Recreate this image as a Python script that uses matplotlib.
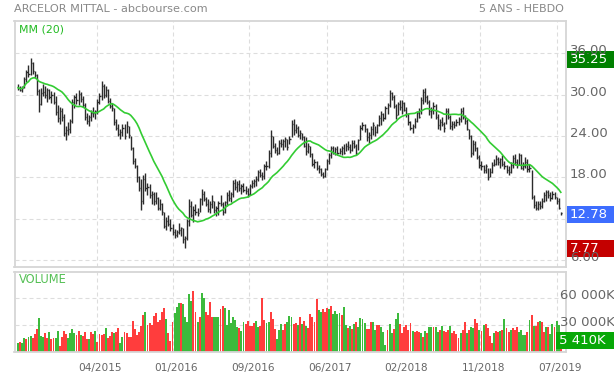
import numpy as np
import pandas as pd
import matplotlib
matplotlib.use("Agg")
import matplotlib.pyplot as plt
from matplotlib import transforms
from matplotlib.patches import Rectangle

title = "ARCELOR MITTAL - abcbourse.com"
period = "5 ANS - HEBDO"
x_labels = ["04/2015", "01/2016", "09/2016", "06/2017", "02/2018", "11/2018", "07/2019"]
x_label_weeks = [37.7, 74.0, 110.8, 147.8, 184.3, 221.3, 258.0]
price_ticks = [6, 12, 18, 24, 30, 36]
hidden_ticks = [12]  # label sits under the last-price tag
vol_ticks = [30000, 60000]

# weekly bars
high = [31.6, 31.3, 31.2, 32.5, 33.6, 34.3, 35.25, 34.8, 33.5, 33.0,
        30.8, 30.9, 31.6, 31.2, 31.0, 30.8, 30.5, 30.4, 29.8, 28.5,
        28.2, 28.0, 27.2, 25.5, 26.0, 26.4, 29.3, 30.0, 30.2, 30.6,
        30.4, 29.8, 28.8, 27.4, 27.1, 27.8, 28.2, 27.8, 29.4, 30.2,
        32.0, 31.5, 31.3, 30.8, 29.5, 28.8, 28.0, 26.4, 25.8, 25.0,
        25.8, 25.7, 26.2, 25.4, 24.0, 22.4, 20.8, 19.8, 18.2, 17.8,
        18.4, 18.6, 17.2, 17.0, 16.0, 15.8, 15.8, 15.2, 14.9, 14.3,
        12.9, 12.2, 12.6, 11.9, 11.2, 10.5, 10.4, 11.4, 10.8, 10.6,
        9.5, 12.0, 14.8, 14.5, 13.8, 14.2, 13.6, 15.0, 16.3, 16.0,
        15.2, 14.8, 14.6, 15.4, 14.6, 13.8, 14.6, 15.4, 14.4, 14.6,
        15.8, 16.2, 15.8, 17.6, 17.8, 17.4, 17.6, 17.0, 17.2, 16.8,
        16.4, 17.0, 17.6, 17.8, 18.2, 19.0, 19.2, 18.8, 20.0, 20.4,
        22.0, 24.9, 24.0, 23.0, 22.4, 23.4, 23.6, 23.5, 23.8, 23.5,
        24.0, 26.3, 26.4, 25.8, 25.4, 24.8, 24.4, 24.0, 23.9, 23.0,
        22.6, 21.5, 20.6, 20.4, 19.8, 19.4, 18.8, 19.4, 20.6, 21.6,
        22.6, 22.5, 22.4, 22.6, 22.3, 22.6, 22.8, 23.0, 23.2, 22.8,
        23.4, 23.4, 22.8, 23.6, 25.6, 26.0, 25.8, 25.2, 24.6, 25.4,
        26.0, 25.4, 25.8, 27.0, 27.6, 27.4, 28.4, 28.8, 30.6, 30.4,
        30.0, 28.6, 29.0, 29.2, 29.2, 29.0, 28.2, 27.4, 26.2, 25.8,
        26.6, 27.6, 28.0, 29.6, 30.8, 30.9, 30.0, 29.2, 28.2, 29.0,
        28.6, 27.2, 26.4, 26.8, 26.0, 28.0, 28.0, 27.0, 26.2, 26.2,
        26.4, 26.8, 28.0, 28.2, 27.0, 26.4, 25.0, 24.2, 23.4, 23.2,
        22.4, 21.2, 20.4, 19.8, 20.0, 19.4, 19.4, 20.2, 20.6, 21.2,
        21.0, 20.8, 21.2, 20.4, 19.8, 19.6, 20.2, 21.2, 21.4, 20.6,
        21.6, 21.4, 20.2, 21.0, 20.6, 20.0, 19.0, 15.4, 14.6, 14.6,
        14.6, 15.0, 15.8, 16.2, 16.2, 15.8, 16.0, 15.8, 15.2, 15.0,
        13.0]
low = [30.7, 30.5, 30.4, 30.9, 31.8, 32.5, 32.8, 33.0, 32.4, 30.0,
       27.5, 28.5, 29.8, 29.5, 29.0, 29.3, 28.8, 28.6, 27.0, 26.0,
       25.8, 26.2, 24.0, 23.4, 24.2, 24.5, 25.9, 28.0, 28.6, 28.5,
       29.0, 28.2, 26.3, 25.8, 25.5, 26.2, 26.8, 26.4, 27.2, 28.6,
       29.2, 29.5, 29.6, 28.8, 28.0, 27.6, 25.6, 24.8, 24.0, 23.5,
       24.0, 23.5, 24.4, 23.7, 21.9, 20.0, 19.4, 17.3, 16.0, 13.3,
       14.2, 16.0, 15.4, 15.0, 14.2, 14.0, 14.2, 13.2, 13.3, 12.6,
       10.6, 10.4, 11.0, 10.2, 9.6, 9.2, 9.3, 9.8, 9.5, 8.4,
       7.77, 8.9, 11.0, 12.2, 11.5, 12.5, 12.4, 12.9, 14.0, 14.5,
       13.8, 13.0, 12.8, 13.6, 12.8, 12.4, 12.6, 13.8, 12.6, 12.8,
       13.8, 14.6, 14.4, 15.2, 16.2, 15.8, 16.0, 15.6, 15.8, 15.6,
       15.2, 15.4, 16.4, 16.6, 16.8, 17.4, 18.0, 17.6, 17.8, 19.0,
       19.4, 21.0, 22.2, 21.6, 21.2, 21.4, 22.4, 21.9, 22.4, 22.0,
       22.8, 23.8, 24.2, 24.4, 23.8, 23.6, 23.4, 22.4, 21.2, 21.6,
       21.0, 19.6, 19.4, 19.0, 18.6, 18.2, 17.9, 18.0, 19.0, 20.0,
       20.8, 21.4, 21.2, 21.3, 21.4, 21.2, 21.4, 21.8, 22.0, 21.6,
       21.8, 22.2, 21.2, 22.0, 23.4, 24.8, 24.6, 23.2, 23.0, 23.6,
       24.2, 24.0, 24.4, 25.4, 25.6, 26.2, 26.4, 27.2, 28.2, 29.2,
       28.0, 26.4, 27.0, 27.8, 27.2, 27.6, 26.8, 25.6, 24.8, 24.4,
       25.2, 26.0, 26.6, 27.2, 28.6, 29.0, 28.6, 27.0, 26.6, 27.2,
       26.4, 25.0, 24.8, 25.4, 24.6, 25.8, 26.4, 25.0, 24.8, 25.2,
       25.4, 25.6, 26.0, 26.4, 25.8, 24.8, 23.6, 21.0, 21.2, 21.8,
       20.6, 19.4, 19.0, 18.6, 18.6, 17.6, 18.0, 18.6, 19.6, 19.8,
       19.8, 19.4, 19.6, 19.2, 18.6, 18.4, 18.6, 19.4, 19.8, 19.4,
       19.8, 19.2, 19.0, 19.4, 18.8, 18.8, 14.8, 13.6, 13.2, 13.2,
       13.4, 13.6, 14.4, 14.6, 15.0, 14.6, 14.8, 14.8, 14.2, 13.4,
       12.5]
close = [31.0, 30.7, 31.0, 32.3, 33.3, 33.0, 34.6, 33.4, 32.8, 30.5,
         28.6, 30.3, 30.4, 29.9, 30.6, 29.6, 30.0, 29.0, 27.5, 26.6,
         27.6, 26.8, 24.5, 24.9, 25.0, 26.1, 29.0, 29.6, 29.2, 30.1,
         29.4, 28.5, 26.8, 26.2, 26.7, 27.4, 27.3, 27.6, 29.0, 29.8,
         31.2, 30.0, 30.6, 29.1, 28.4, 28.1, 26.0, 25.2, 24.3, 24.6,
         25.2, 24.0, 25.5, 24.2, 22.3, 20.3, 19.7, 18.0, 16.5, 14.5,
         17.8, 16.5, 16.6, 15.5, 15.6, 14.5, 15.0, 13.6, 14.2, 12.9,
         11.0, 11.6, 11.2, 10.6, 10.0, 9.6, 10.1, 10.3, 10.6, 9.0,
         9.2, 11.6, 13.8, 12.6, 13.2, 13.0, 12.8, 14.8, 15.6, 14.8,
         14.2, 13.4, 14.2, 14.6, 13.2, 13.6, 14.3, 14.2, 13.0, 14.4,
         15.5, 15.0, 15.6, 17.2, 16.6, 17.0, 16.4, 16.8, 16.1, 16.0,
         15.6, 16.8, 17.2, 17.5, 17.8, 18.7, 18.4, 18.2, 19.7, 19.6,
         21.5, 24.0, 22.6, 22.0, 21.6, 23.0, 22.8, 23.2, 23.6, 22.4,
         23.5, 25.8, 24.8, 25.2, 24.2, 24.4, 23.8, 22.6, 21.8, 22.6,
         21.4, 20.0, 20.2, 19.4, 19.2, 18.5, 18.2, 19.2, 20.4, 21.3,
         22.2, 21.6, 22.1, 21.6, 21.8, 22.2, 21.6, 22.6, 22.4, 22.0,
         23.0, 22.6, 21.6, 23.4, 25.2, 25.6, 25.0, 23.8, 24.2, 25.0,
         25.6, 24.6, 25.6, 26.6, 27.2, 26.6, 28.0, 28.5, 30.2, 29.6,
         28.4, 27.0, 28.6, 28.2, 28.8, 27.8, 27.2, 26.0, 25.2, 25.4,
         26.2, 27.4, 26.8, 29.2, 30.4, 29.6, 29.0, 27.6, 27.8, 28.4,
         26.8, 25.6, 26.0, 25.8, 25.2, 27.6, 26.8, 25.4, 25.8, 25.6,
         26.0, 26.4, 27.6, 26.8, 26.2, 25.0, 24.0, 21.6, 22.8, 22.2,
         21.0, 19.8, 19.6, 19.0, 19.6, 18.0, 18.8, 19.8, 20.0, 20.6,
         20.2, 20.6, 20.0, 19.6, 19.0, 18.8, 19.8, 20.8, 20.2, 19.8,
         21.2, 19.4, 19.6, 20.2, 19.2, 19.4, 15.2, 14.0, 13.6, 14.2,
         13.8, 14.6, 15.4, 15.8, 15.4, 15.0, 15.6, 15.2, 14.5, 13.6,
         12.78]
# volume in K, direction g = up week, r = down week
volume = [9400, 10500, 9400, 15400, 14200, 16900, 17600, 15000, 19500, 25000,
          38000, 17600, 16900, 20600, 15000, 22500, 14200, 15000, 15000, 23200,
          6400, 16900, 23200, 19500, 15800, 20600, 25500, 21400, 18800, 23200,
          18400, 17600, 22100, 13900, 13900, 21800, 19900, 23600, 11300, 19500,
          18800, 19900, 26300, 15000, 17600, 22500, 21400, 22100, 26300, 10100,
          16900, 22500, 20600, 16900, 16900, 34900, 25100, 18800, 22500, 28900,
          41300, 45000, 30000, 31900, 30000, 40100, 43900, 33800, 35600, 45000,
          48800, 36400, 21400, 12400, 33800, 43100, 49900, 54400, 54400, 53300,
          39400, 33000, 64500, 57400, 68300, 45000, 33800, 38600, 66400, 60000,
          45000, 41300, 56300, 38600, 39400, 39400, 39400, 48000, 51400, 48800,
          30000, 46900, 32600, 39400, 35600, 27400, 26300, 23600, 33000, 31100,
          34500, 28900, 28900, 31900, 34500, 28100, 28900, 60800, 35600, 31900,
          33800, 44300, 36400, 25500, 13900, 24400, 31100, 24400, 31100, 33800,
          40500, 38600, 30800, 31900, 30000, 38600, 30800, 34500, 29300, 27000,
          42000, 39400, 33000, 59300, 46900, 44300, 48000, 45000, 49500, 47600,
          51400, 42000, 45800, 42000, 43500, 41300, 49900, 30000, 26300, 29300,
          25100, 31100, 33800, 27400, 37500, 36400, 32600, 25100, 25500, 33800,
          33000, 24400, 30000, 30000, 27400, 21800, 7100, 24400, 30800, 21400,
          25100, 36400, 43100, 31100, 21400, 28100, 30000, 24400, 32600, 23200,
          21800, 23200, 22500, 21400, 16900, 23200, 20600, 27400, 27400, 27400,
          27400, 22500, 24400, 28900, 23600, 22500, 24400, 28900, 20600, 23200,
          19500, 15800, 20600, 24400, 33800, 21400, 24400, 28100, 26300, 36800,
          31900, 24400, 23200, 30000, 31100, 27000, 17600, 9400, 21400, 23200,
          22000, 23200, 24400, 36400, 26300, 22500, 24400, 26300, 24400, 28100,
          22500, 24400, 18800, 18800, 22000, 35600, 41300, 28900, 28900, 33800,
          34500, 33000, 22500, 28100, 28100, 20000, 30800, 28000, 34900, 30000,
          5410]
vol_dir = ("grggrggrrrgggrrgrrgg" "rrrrggggrrgrrrgrrgrr"
           "rrgrrrgrrggrrrrrrrrr" "rgrrrrrrrrrgrrrgggrg"
           "ggggrrgrggrrrrgggrrg" "ggggggrggrrrrrggrrrg"
           "grrrgggrrgggrrgrgrgr" "rrrrggrrrgrggggrggrg"
           "rgrggggrrrggrrgggrgg" "rggrrrrrrgrrrgrgrggr"
           "ggrgrrrgrrrrgrrgrggr" "rgrgrrrrgrrgrgrrgrrr"
           "ggggrgrgrrgr" "r")
last_price = 12.78
max_price = 35.25
min_price = 7.77
last_volume = 5410

W, H = 614, 378
fig = plt.figure(figsize=(W / 100, H / 100), dpi=100)
fig.patch.set_facecolor("white")

def frac(x0, y0, x1, y1):
    # pixel box (top-left origin) -> figure fraction rect
    return [x0 / W, 1 - y1 / H, (x1 - x0) / W, (y1 - y0) / H]

ax = fig.add_axes(frac(14.5, 21.3, 565.6, 266.7))
axv = fig.add_axes(frac(14.5, 271.7, 565.6, 351.7))

idx = np.arange(len(close))
grid_kw = dict(color="#dddddd", lw=0.8, ls=(0, (3.6, 2.7)))
border = "#d6d6d6"

# price panel: high-low bars with close tick
ax.vlines(idx, low, high, color="#2b2b2b", lw=1.0)
ax.hlines(close, idx, idx + 0.55, color="#2b2b2b", lw=1.0)
ma = pd.Series(close).rolling(20, min_periods=1).mean()
ax.plot(idx, ma, color="#33cc33", lw=1.2)
ax.set_xlim(-1.7, 262.3)
ax.set_ylim(5.03, 40.64)
ax.set_yticks(price_ticks)
ax.set_xticks(x_label_weeks)
ax.grid(True, **grid_kw)
ax.set_axisbelow(True)
ax.tick_params(length=0, labelleft=False, labelbottom=False)

# volume panel
cols = ["#3cba3c" if d == "g" else "#ff3d3d" for d in vol_dir]
axv.bar(idx, volume, width=0.92, color=cols, linewidth=0)
axv.set_xlim(-1.7, 262.3)
axv.set_ylim(0, 89900)
axv.set_yticks(vol_ticks)
axv.set_xticks(x_label_weeks)
axv.set_xticklabels(x_labels)
axv.grid(True, **grid_kw)
axv.set_axisbelow(True)
axv.tick_params(length=0, labelleft=False, pad=8, labelsize=7.6, labelcolor="#666666")
shift = transforms.ScaledTranslation(3.5 / 100, 0, fig.dpi_scale_trans)
for lab in axv.get_xticklabels():
    lab.set_transform(lab.get_transform() + shift)

for a in (ax, axv):
    for s in a.spines.values():
        s.set_color(border)
        s.set_linewidth(1.3)

fig.canvas.draw()

def ypix(a, v):
    return a.transData.transform((0, v))[1]

# right side labels
for t in price_ticks:
    if t in hidden_ticks:
        continue
    fig.text(570 / W, (ypix(ax, t) + 2.5) / H, "%.2f" % t, color="#666666",
             fontsize=9.5, va="center", ha="left")
for t in vol_ticks:
    fig.text(560 / W, (ypix(axv, t) + 2.5) / H, "%d 000K" % (t // 1000),
             color="#666666", fontsize=9.5, va="center", ha="left")

def tag(x0, yc, text, color, tx):
    fig.add_artist(Rectangle((x0, yc - 8.5), W - x0, 17, facecolor=color,
                             edgecolor="none", transform=transforms.IdentityTransform()))
    fig.text(tx / W, yc / H, text, color="white", fontsize=9.5, va="center", ha="left")

tag(567, ypix(ax, max_price) - 1, "%.2f" % max_price, "#008000", 570)
tag(567, ypix(ax, last_price) - 1, "%.2f" % last_price, "#3d6dff", 570)
tag(567, ypix(ax, min_price) - 1, "%.2f" % min_price, "#c40000", 570)
tag(556, ypix(axv, last_volume) + 6, "%d %dK" % (last_volume // 1000, last_volume % 1000), "#07a807", 559)

# titles
fig.text(14.5 / W, 1 - 8.7 / H, title, color="#888888", fontsize=8.1, va="center", ha="left")
fig.text(564 / W, 1 - 8.7 / H, period, color="#888888", fontsize=8.0, va="center", ha="right")
fig.text(19 / W, 1 - 29 / H, "MM (20)", color="#22bb22", fontsize=7.9, va="center", ha="left")
fig.text(19 / W, 1 - 279.5 / H, "VOLUME", color="#55c055", fontsize=8.3, va="center", ha="left")

fig.savefig("out.png", dpi=100)
